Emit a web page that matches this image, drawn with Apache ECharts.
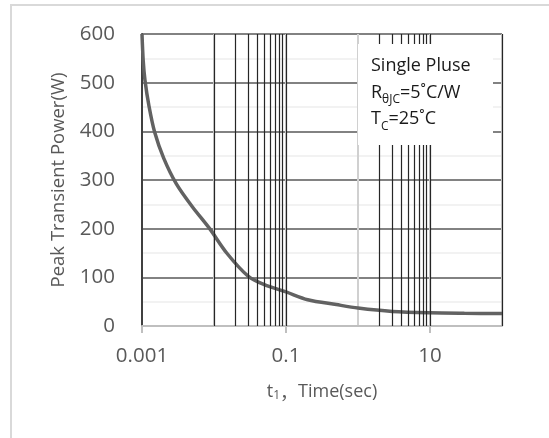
<!DOCTYPE html>
<html>
<head>
<meta charset="utf-8">
<script src="https://cdn.jsdelivr.net/npm/echarts@6/dist/echarts.min.js"></script>
<style>
html,body{margin:0;padding:0;background:#fff;}
#chart{width:549px;height:438px;}
</style>
</head>
<body>
<div id="chart"></div>
<script>
// ---- data ----
const timeSec = [0.001, 0.00104, 0.0011, 0.00125, 0.0015, 0.002, 0.003, 0.005, 0.0087, 0.015, 0.03, 0.05, 0.1, 0.2, 0.5, 1, 3, 10, 30, 100];
const peakPowerW = [600, 545, 505, 452, 398, 345, 292, 245, 200, 150, 102, 85, 70, 54, 44, 37, 30, 27, 26, 25.5];
const xTickLabels = ['0.001', '0.01', '0.1', '1', '10', '100'];
const darkGridTimes = [0.01, 0.02, 0.03, 0.04, 0.05, 0.06, 0.07, 0.08, 0.09, 0.1, 2, 3, 4, 5, 6, 7, 8, 9, 10, 100];
const yMin = 0, yMax = 600, yStep = 100;

const FONT = '"Open Sans", "Noto Sans", sans-serif';
const chart = echarts.init(document.getElementById('chart'), null, {renderer: 'canvas'});

const curve = timeSec.map((t, i) => [t, peakPowerW[i]]);

chart.setOption({
  animation: false,
  backgroundColor: '#ffffff',
  grid: {left: 142, right: 47, top: 34, bottom: 112, containLabel: false},
  xAxis: [
    {
      type: 'log', logBase: 10, min: 0.001, max: 100,
      axisLine: {show: true, lineStyle: {color: '#bfbfbf', width: 2}},
      axisTick: {show: false},
      axisLabel: {show: false},
      splitLine: {show: true, lineStyle: {color: '#d0d0d0', width: 2}},
      name: '{t|t}{s|1}{c|，}{t|Time(sec)}',
      nameLocation: 'middle',
      nameGap: 56,
      nameTextStyle: {
        color: '#595959', fontFamily: FONT,
        rich: {
          t: {fontSize: 18, fontFamily: FONT, color: '#595959', lineHeight: 20},
          s: {fontSize: 12, fontFamily: FONT, color: '#595959', lineHeight: 12, verticalAlign: 'bottom'},
          c: {fontSize: 18, fontFamily: '"Noto Sans CJK SC", sans-serif', color: '#595959', lineHeight: 20}
        }
      }
    },
    {
      type: 'category', boundaryGap: false, data: xTickLabels, position: 'bottom', gridIndex: 0,
      axisLine: {show: false},
      axisTick: {show: true, interval: 1, length: 7, lineStyle: {color: '#bfbfbf', width: 2}},
      axisLabel: {show: true, interval: 1, fontSize: 20.5, fontFamily: FONT, color: '#595959', margin: 20},
      splitLine: {show: false}
    }
  ],
  yAxis: {
    type: 'value', min: yMin, max: yMax, interval: yStep,
    axisLine: {show: true, lineStyle: {color: '#404040', width: 2}},
    axisTick: {show: false},
    axisLabel: {fontSize: 20.5, fontFamily: FONT, color: '#595959', margin: 27},
    splitLine: {show: true, lineStyle: {color: ['#bfbfbf', '#595959', '#595959', '#595959', '#595959', '#595959', '#595959'], width: 1.5}},
    minorTick: {show: false, splitNumber: 2},
    minorSplitLine: {show: true, lineStyle: {color: '#eeeeee', width: 1.5}},
    name: 'Peak Transient Power(W)',
    nameLocation: 'middle',
    nameGap: 74,
    nameTextStyle: {fontSize: 18.5, fontFamily: FONT, color: '#595959'}
  },
  series: [
    {
      type: 'line', xAxisIndex: 0, data: [], z: 1, silent: true,
      markLine: {
        silent: true, symbol: 'none', animation: false,
        label: {show: false},
        lineStyle: {color: '#262626', width: 1.2, type: 'solid'},
        data: darkGridTimes.map(t => ({xAxis: t}))
      }
    },
    {
      type: 'line', xAxisIndex: 0, data: curve, z: 3,
      showSymbol: false, smooth: 0.3,
      lineStyle: {color: '#626262', width: 3.5}
    }
  ],
  graphic: [
    {type: 'rect', z: 0, shape: {x: 11, y: 5, width: 620, height: 520}, style: {fill: 'none', stroke: '#d9d9d9', lineWidth: 2}},
    {type: 'rect', z: 100, shape: {x: 358, y: 44, width: 135, height: 101}, style: {fill: '#ffffff', stroke: 'none'}},
    {
      type: 'text', z: 101, x: 371, y: 53,
      style: {
        text: '{n|Single Pluse}\n{n|R}{s|θJC}{n|=5˚C/W}\n{n|T}{s|C}{n|=25˚C}',
        fill: '#1a1a1a', verticalAlign: 'top', align: 'left',
        rich: {
          n: {fontSize: 18, fontFamily: FONT, fill: '#1a1a1a', lineHeight: 26.5},
          s: {fontSize: 12, fontFamily: FONT, fill: '#1a1a1a', lineHeight: 14, verticalAlign: 'bottom'}
        }
      }
    }
  ]
});
</script>
</body>
</html>
